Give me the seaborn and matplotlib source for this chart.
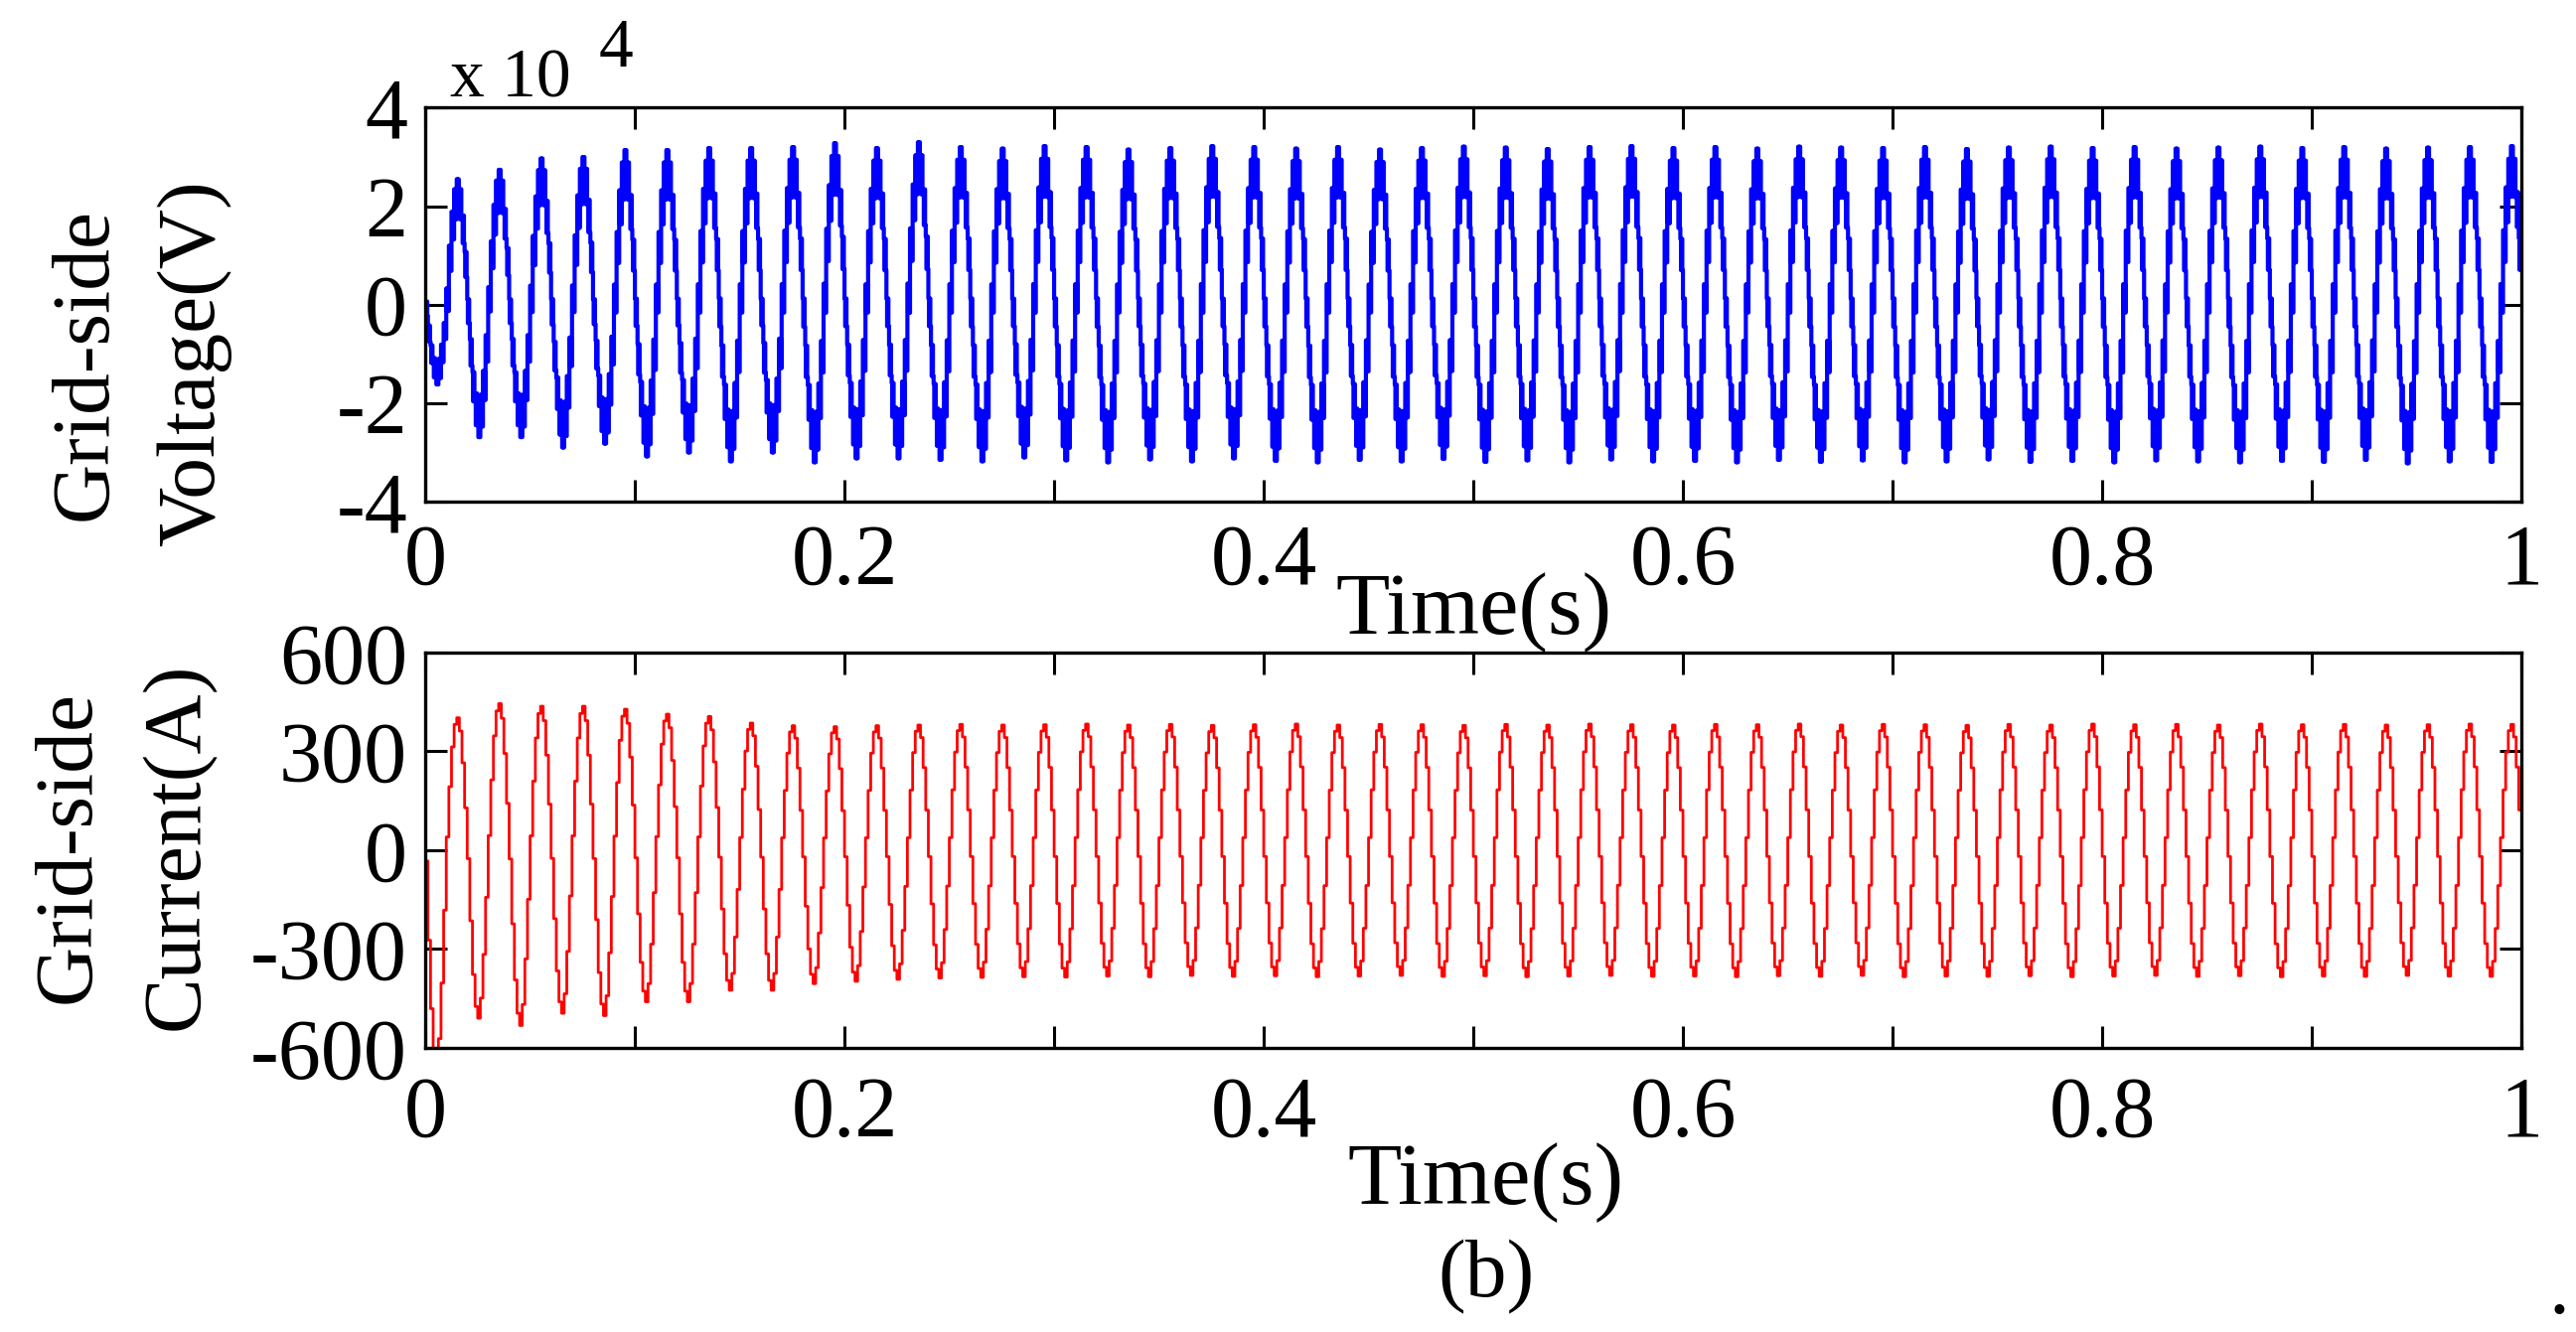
import numpy as np
import pandas as pd
import matplotlib
matplotlib.use("Agg")
import matplotlib.pyplot as plt
import seaborn as sns

sns.set_style("ticks")
plt.rcParams['font.family'] = ['Liberation Serif', 'DejaVu Serif']
plt.rcParams['text.color'] = 'black'

# scope sample time, 16 samples per 50 Hz cycle
sample_dt = 0.00125

# normalised staircase of one cycle
cycle_shape_i = [-0.05, -0.42, -0.74, -0.93, -1.0, -0.88, -0.62, -0.28,
                 0.10, 0.48, 0.78, 0.95, 1.0, 0.90, 0.66, 0.32]
cycle_shape_v = [-0.05, -0.36, -0.62, -0.79, -0.87, -0.80, -0.61, -0.33,
                 0.04, 0.37, 0.63, 0.80, 0.87, 0.80, 0.60, 0.32]
# switching ripple on the voltage, same 16 positions
v_ripple = [0.09, 0.10, 0.11, 0.12, 0.13, 0.12, 0.11, 0.10,
            0.09, 0.10, 0.11, 0.12, 0.13, 0.12, 0.11, 0.10]

# per-cycle extremes, voltage in x10^4 V
v_troughs = [-1.62, -2.69, -2.69, -2.90, -2.82, -3.08, -3.00, -3.18, -3.00, -3.20,
             -3.12, -3.12, -3.15, -3.18, -3.10, -3.16, -3.20, -3.14, -3.18, -3.12,
             -3.17, -3.20, -3.15, -3.18, -3.13, -3.19, -3.16, -3.20, -3.14, -3.18,
             -3.17, -3.20, -3.15, -3.19, -3.16, -3.20, -3.18, -3.14, -3.19, -3.17,
             -3.20, -3.16, -3.18, -3.20, -3.17, -3.19, -3.15, -3.22, -3.18, -3.19]
v_peaks = [2.55, 2.74, 2.97, 3.00, 3.14, 3.14, 3.18, 3.18, 3.20, 3.28,
           3.18, 3.30, 3.20, 3.17, 3.22, 3.20, 3.15, 3.18, 3.22, 3.20,
           3.17, 3.20, 3.15, 3.18, 3.21, 3.19, 3.16, 3.20, 3.22, 3.18,
           3.20, 3.17, 3.21, 3.19, 3.18, 3.20, 3.16, 3.19, 3.21, 3.18,
           3.20, 3.17, 3.19, 3.21, 3.18, 3.20, 3.17, 3.19, 3.20, 3.22]

# current in A
i_troughs = [-650, -510, -532, -495, -502, -460, -460, -425, -425, -405,
             -398, -392, -388, -386, -384, -385, -382, -384, -380, -383,
             -381, -384, -382, -380, -383, -381, -384, -382, -380, -383,
             -382, -384, -381, -383, -380, -384, -382, -383, -381, -384,
             -382, -380, -383, -381, -384, -382, -383, -380, -382, -383]
i_peaks = [402, 445, 437, 437, 428, 413, 406, 386, 378, 375,
           378, 380, 382, 380, 381, 383, 380, 382, 379, 381,
           383, 380, 382, 381, 379, 382, 380, 383, 381, 380,
           382, 381, 383, 380, 382, 381, 379, 382, 380, 383,
           381, 382, 380, 383, 381, 382, 380, 381, 383, 382]

xtick_vals = [0, 0.1, 0.2, 0.3, 0.4, 0.5, 0.6, 0.7, 0.8, 0.9, 1.0]
xtick_labels = ['0', '', '0.2', '', '0.4', '', '0.6', '', '0.8', '', '1']
v_yticks = [-4, -2, 0, 2, 4]
i_yticks = [-600, -300, 0, 300, 600]


def build(shape, peaks, troughs, ripple=None, nsub=1):
    t, y = [], []
    n = len(shape)
    for k in range(len(peaks)):
        for j, s in enumerate(shape):
            amp = peaks[k] if s >= 0 else -troughs[k]
            t0 = (k * n + j) * sample_dt
            for m in range(nsub):
                r = 0 if ripple is None else ripple[j] * (1 if m % 2 == 0 else -1)
                t.append(t0 + m * sample_dt / nsub)
                y.append(amp * (s + r))
    t.append(len(peaks) * n * sample_dt)
    y.append(y[-1])
    return pd.DataFrame({'t': t, 'y': y})


df_v = build(cycle_shape_v, v_peaks, v_troughs, v_ripple, nsub=4)
df_i = build(cycle_shape_i, i_peaks, i_troughs)

fig = plt.figure(figsize=(25.93, 13.41), dpi=100)
ax1 = fig.add_axes([0.1651, 0.6234, 0.8137, 0.2957])
ax2 = fig.add_axes([0.1651, 0.2133, 0.8137, 0.2968])

sns.lineplot(data=df_v, x='t', y='y', ax=ax1, color='#0000ff', linewidth=3.0,
             drawstyle='steps-post', estimator=None, sort=False)
sns.lineplot(data=df_i, x='t', y='y', ax=ax2, color='#ff0000', linewidth=2.0,
             drawstyle='steps-post', estimator=None, sort=False)

for ax, yt, pad in [(ax1, v_yticks, 16), (ax2, i_yticks, 20)]:
    ax.set_xlim(0, 1)
    ax.set_ylim(yt[0], yt[-1])
    ax.set_xticks(xtick_vals)
    ax.set_xticklabels(xtick_labels)
    ax.set_yticks(yt)
    ax.set_yticklabels([str(v) for v in yt])
    ax.set_xlabel('')
    ax.set_ylabel('')
    for sp in ax.spines.values():
        sp.set_visible(True)
        sp.set_linewidth(2.4)
        sp.set_color('black')
    ax.tick_params(direction='in', length=16, width=2.2, top=True, right=True,
                   labelsize=62, colors='black')
    ax.tick_params(axis='x', pad=pad)
    ax.tick_params(axis='y', pad=13)

W, H = 2593.0, 1341.0
txt = dict(fontsize=60, color='black')
fig.text(106 / W, 1 - 366 / H, 'Grid-side', rotation=90, rotation_mode='anchor',
         ha='center', va='baseline', **txt)
fig.text(215 / W, 1 - 366 / H, 'Voltage(V)', rotation=90, rotation_mode='anchor',
         ha='center', va='baseline', **txt)
fig.text(89 / W, 1 - 852 / H, 'Grid-side', rotation=90, rotation_mode='anchor',
         ha='center', va='baseline', **txt)
fig.text(199 / W, 1 - 852 / H, 'Current(A)', rotation=90, rotation_mode='anchor',
         ha='center', va='baseline', **txt)

fig.text(453 / W, 1 - 98 / H, 'x 10', fontsize=50, color='black', ha='left', va='baseline')
fig.text(603 / W, 1 - 67 / H, '4', fontsize=50, color='black', ha='left', va='baseline')

fig.text(1484 / W, 1 - 638 / H, 'Time(s)', fontsize=64, color='black', ha='center', va='baseline')
fig.text(1496 / W, 1 - 1212 / H, 'Time(s)', fontsize=64, color='black', ha='center', va='baseline')
fig.text(1496 / W, 1 - 1305 / H, '(b)', fontsize=60, color='black', ha='center', va='baseline')
fig.text(2576 / W, 1 - 1322 / H, '.', fontsize=60, color='black', ha='center', va='baseline')

fig.savefig('out.png', dpi=100)
